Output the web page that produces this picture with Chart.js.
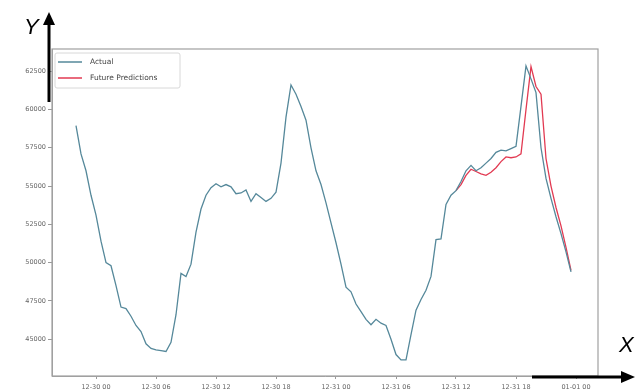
<!DOCTYPE html>
<html>
<head>
<meta charset="utf-8">
<script src="https://cdn.jsdelivr.net/npm/chart.js@4/dist/chart.umd.min.js"></script>
<style>
html,body{margin:0;padding:0;background:#fff;}
#wrap{width:635px;height:392px;position:relative;}
</style>
</head>
<body>
<div id="wrap"><canvas id="c" width="635" height="392"></canvas></div>
<script>
// hours offset from 12-30 00:00
const actualHours = [];
for (let h = -2; h <= 47.5; h += 0.5) actualHours.push(h);
const actualValues = [
58950,57100,56000,54400,53100,51400,50000,49800,48500,47100,
47000,46500,45900,45500,44700,44400,44300,44250,44200,44800,
46600,49300,49100,49900,52000,53500,54400,54900,55150,54950,
55100,54950,54500,54550,54750,54000,54500,54250,54000,54200,
54600,56500,59500,61600,61000,60200,59300,57500,56000,55100,
53900,52600,51300,49900,48400,48100,47300,46800,46300,45950,
46300,46050,45900,45000,44000,43650,43650,45300,46900,47600,
48200,49100,51500,51550,53800,54400,54700,55300,56000,56350,
56000,56200,56500,56800,57200,57350,57300,57450,57600,60200,
62850,62000,61100,57500,55500,54200,53000,51900,50700,49400
];
const predHours = [];
for (let h = 36; h <= 47.5; h += 0.5) predHours.push(h);
const predValues = [
54700,55100,55700,56100,55950,55800,55700,55900,56200,56600,
56900,56850,56900,57100,60000,62800,61500,61000,56800,55000,
53600,52400,51000,49500
];
const xTickHours = [0,6,12,18,24,30,36,42,48];
const xTickLabels = ["12-30 00","12-30 06","12-30 12","12-30 18","12-31 00","12-31 06","12-31 12","12-31 18","01-01 00"];
const yTicks = [45000,47500,50000,52500,55000,57500,60000,62500];
const seriesNames = ["Actual","Future Predictions"];

const actualColor = '#55889a';
const predColor = '#e23a52';

const overlay = {
  id: 'overlay',
  afterDraw(chart) {
    const ctx = chart.ctx;
    const a = chart.chartArea;
    ctx.save();
    // frame
    ctx.strokeStyle = '#a0a0a0';
    ctx.lineWidth = 1.2;
    ctx.strokeRect(a.left, a.top, a.right - a.left, a.bottom - a.top);
    // legend box
    const lx = a.left + 3, ly = a.top + 4, lw = 125, lh = 35;
    ctx.fillStyle = 'rgba(255,255,255,0.85)';
    ctx.strokeStyle = '#d8d8d8';
    ctx.lineWidth = 1;
    ctx.beginPath();
    if (ctx.roundRect) ctx.roundRect(lx, ly, lw, lh, 2); else ctx.rect(lx, ly, lw, lh);
    ctx.fill(); ctx.stroke();
    const ds = chart.data.datasets;
    ctx.font = '7.5px "DejaVu Sans", sans-serif';
    ctx.textBaseline = 'middle';
    ds.forEach((d, i) => {
      const yy = ly + 9 + i * 16;
      ctx.strokeStyle = d.borderColor;
      ctx.lineWidth = 1.5;
      ctx.beginPath(); ctx.moveTo(lx + 3, yy); ctx.lineTo(lx + 27, yy); ctx.stroke();
      ctx.fillStyle = '#444';
      ctx.fillText(d.label, lx + 35, yy);
    });
    // Y arrow
    ctx.strokeStyle = '#000'; ctx.fillStyle = '#000';
    ctx.lineWidth = 3;
    ctx.beginPath(); ctx.moveTo(49, 102); ctx.lineTo(49, 22); ctx.stroke();
    ctx.beginPath(); ctx.moveTo(49, 12); ctx.lineTo(43, 25); ctx.lineTo(55, 25); ctx.closePath(); ctx.fill();
    // X arrow
    ctx.beginPath(); ctx.moveTo(532, 377); ctx.lineTo(624, 377); ctx.stroke();
    ctx.beginPath(); ctx.moveTo(635, 377); ctx.lineTo(621, 371); ctx.lineTo(621, 383); ctx.closePath(); ctx.fill();
    // letters
    ctx.font = 'italic 22px "Liberation Sans", Arial, sans-serif';
    ctx.textBaseline = 'alphabetic';
    ctx.textAlign = 'left';
    ctx.fillText('Y', 24, 34);
    ctx.fillText('X', 619, 352);
    ctx.restore();
  }
};

new Chart(document.getElementById('c'), {
  type: 'line',
  data: {
    datasets: [
      { label: seriesNames[0], data: actualHours.map((h, i) => ({x: h, y: actualValues[i]})),
        borderColor: actualColor, borderWidth: 1.3, pointRadius: 0, tension: 0, fill: false },
      { label: seriesNames[1], data: predHours.map((h, i) => ({x: h, y: predValues[i]})),
        borderColor: predColor, borderWidth: 1.3, pointRadius: 0, tension: 0, fill: false }
    ]
  },
  options: {
    responsive: false,
    animation: false,
    events: [],
    layout: { padding: { left: 0, right: 37, top: 49, bottom: 0 } },
    plugins: { legend: { display: false }, tooltip: { enabled: false } },
    scales: {
      x: {
        type: 'linear', min: -4.4, max: 50.2,
        afterBuildTicks: s => { s.ticks = xTickHours.map(v => ({value: v})); },
        afterFit: s => { s.height = 16; },
        ticks: {
          autoSkip: false, maxRotation: 0, padding: 4,
          color: '#666', font: { size: 6.5, family: '"DejaVu Sans", sans-serif' },
          callback: (v) => { const i = xTickHours.indexOf(v); return i >= 0 ? xTickLabels[i] : ''; }
        },
        grid: { display: true, drawOnChartArea: false, drawTicks: true, tickLength: 3, color: '#999' },
        border: { display: true, color: '#a0a0a0' }
      },
      y: {
        type: 'linear', min: 42600, max: 63950,
        afterBuildTicks: s => { s.ticks = yTicks.map(v => ({value: v})); },
        afterFit: s => { s.width = 52; },
        ticks: {
          padding: 2, color: '#666', font: { size: 6.5, family: '"DejaVu Sans", sans-serif' },
          callback: v => String(v)
        },
        grid: { display: true, drawOnChartArea: false, drawTicks: true, tickLength: 4, color: '#999' },
        border: { display: true, color: '#a0a0a0' }
      }
    }
  },
  plugins: [overlay]
});
</script>
</body>
</html>
